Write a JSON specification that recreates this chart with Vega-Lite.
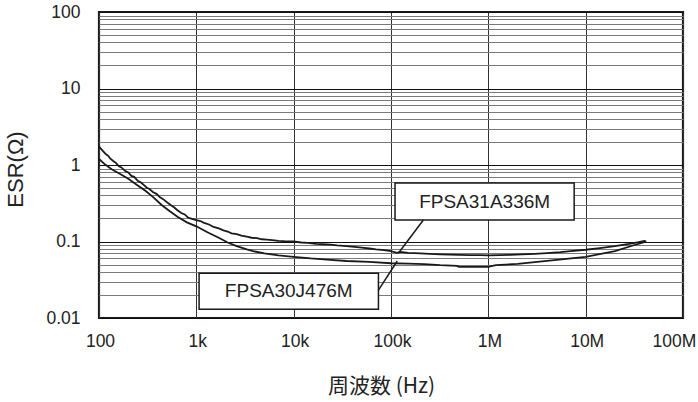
{
  "$schema": "https://vega.github.io/schema/vega-lite/v6.json",
  "width": 584,
  "height": 306,
  "autosize": "none",
  "padding": {"left": 99, "top": 12, "right": 15, "bottom": 84},
  "background": "white",
  "config": {
    "view": {"stroke": "#1a1a1a", "strokeWidth": 2.2},
    "font": "Liberation Sans",
    "axis": {"labelFont": "Liberation Sans", "titleFont": "Liberation Sans", "labelColor": "#222", "titleColor": "#222", "titleFontWeight": "normal", "labelFlush": false}
  },
  "datasets": {
    "curves": [
      {"series": "FPSA31A336M", "freq": 100, "esr": 1.75},
      {"series": "FPSA31A336M", "freq": 105, "esr": 1.62},
      {"series": "FPSA31A336M", "freq": 110, "esr": 1.52},
      {"series": "FPSA31A336M", "freq": 118, "esr": 1.38},
      {"series": "FPSA31A336M", "freq": 125, "esr": 1.31},
      {"series": "FPSA31A336M", "freq": 130, "esr": 1.22},
      {"series": "FPSA31A336M", "freq": 140, "esr": 1.13},
      {"series": "FPSA31A336M", "freq": 150, "esr": 1.06},
      {"series": "FPSA31A336M", "freq": 160, "esr": 0.96},
      {"series": "FPSA31A336M", "freq": 170, "esr": 0.93},
      {"series": "FPSA31A336M", "freq": 185, "esr": 0.84},
      {"series": "FPSA31A336M", "freq": 200, "esr": 0.8},
      {"series": "FPSA31A336M", "freq": 215, "esr": 0.72},
      {"series": "FPSA31A336M", "freq": 230, "esr": 0.7},
      {"series": "FPSA31A336M", "freq": 250, "esr": 0.62},
      {"series": "FPSA31A336M", "freq": 270, "esr": 0.59},
      {"series": "FPSA31A336M", "freq": 290, "esr": 0.545},
      {"series": "FPSA31A336M", "freq": 310, "esr": 0.505},
      {"series": "FPSA31A336M", "freq": 330, "esr": 0.485},
      {"series": "FPSA31A336M", "freq": 360, "esr": 0.44},
      {"series": "FPSA31A336M", "freq": 390, "esr": 0.42},
      {"series": "FPSA31A336M", "freq": 420, "esr": 0.38},
      {"series": "FPSA31A336M", "freq": 460, "esr": 0.355},
      {"series": "FPSA31A336M", "freq": 500, "esr": 0.325},
      {"series": "FPSA31A336M", "freq": 540, "esr": 0.302},
      {"series": "FPSA31A336M", "freq": 590, "esr": 0.28},
      {"series": "FPSA31A336M", "freq": 640, "esr": 0.256},
      {"series": "FPSA31A336M", "freq": 700, "esr": 0.236},
      {"series": "FPSA31A336M", "freq": 760, "esr": 0.226},
      {"series": "FPSA31A336M", "freq": 820, "esr": 0.206},
      {"series": "FPSA31A336M", "freq": 900, "esr": 0.198},
      {"series": "FPSA31A336M", "freq": 1000, "esr": 0.19},
      {"series": "FPSA31A336M", "freq": 1100, "esr": 0.185},
      {"series": "FPSA31A336M", "freq": 1200, "esr": 0.175},
      {"series": "FPSA31A336M", "freq": 1350, "esr": 0.167},
      {"series": "FPSA31A336M", "freq": 1500, "esr": 0.155},
      {"series": "FPSA31A336M", "freq": 1700, "esr": 0.148},
      {"series": "FPSA31A336M", "freq": 1900, "esr": 0.14},
      {"series": "FPSA31A336M", "freq": 2100, "esr": 0.135},
      {"series": "FPSA31A336M", "freq": 2300, "esr": 0.128},
      {"series": "FPSA31A336M", "freq": 2600, "esr": 0.125},
      {"series": "FPSA31A336M", "freq": 2900, "esr": 0.119},
      {"series": "FPSA31A336M", "freq": 3300, "esr": 0.116},
      {"series": "FPSA31A336M", "freq": 3700, "esr": 0.112},
      {"series": "FPSA31A336M", "freq": 4200, "esr": 0.111},
      {"series": "FPSA31A336M", "freq": 4700, "esr": 0.107},
      {"series": "FPSA31A336M", "freq": 5300, "esr": 0.106},
      {"series": "FPSA31A336M", "freq": 6000, "esr": 0.104},
      {"series": "FPSA31A336M", "freq": 7000, "esr": 0.102},
      {"series": "FPSA31A336M", "freq": 8000, "esr": 0.101},
      {"series": "FPSA31A336M", "freq": 10000, "esr": 0.1},
      {"series": "FPSA31A336M", "freq": 12000, "esr": 0.097},
      {"series": "FPSA31A336M", "freq": 14000, "esr": 0.096},
      {"series": "FPSA31A336M", "freq": 17000, "esr": 0.093},
      {"series": "FPSA31A336M", "freq": 20000, "esr": 0.092},
      {"series": "FPSA31A336M", "freq": 24000, "esr": 0.091},
      {"series": "FPSA31A336M", "freq": 28000, "esr": 0.089},
      {"series": "FPSA31A336M", "freq": 35000, "esr": 0.087},
      {"series": "FPSA31A336M", "freq": 42000, "esr": 0.085},
      {"series": "FPSA31A336M", "freq": 50000, "esr": 0.083},
      {"series": "FPSA31A336M", "freq": 60000, "esr": 0.081},
      {"series": "FPSA31A336M", "freq": 70000, "esr": 0.079},
      {"series": "FPSA31A336M", "freq": 85000, "esr": 0.077},
      {"series": "FPSA31A336M", "freq": 100000, "esr": 0.075},
      {"series": "FPSA31A336M", "freq": 115000, "esr": 0.071},
      {"series": "FPSA31A336M", "freq": 125000, "esr": 0.073},
      {"series": "FPSA31A336M", "freq": 150000, "esr": 0.071},
      {"series": "FPSA31A336M", "freq": 200000, "esr": 0.07},
      {"series": "FPSA31A336M", "freq": 250000, "esr": 0.069},
      {"series": "FPSA31A336M", "freq": 320000, "esr": 0.068},
      {"series": "FPSA31A336M", "freq": 400000, "esr": 0.0675},
      {"series": "FPSA31A336M", "freq": 500000, "esr": 0.067},
      {"series": "FPSA31A336M", "freq": 650000, "esr": 0.0665},
      {"series": "FPSA31A336M", "freq": 830000, "esr": 0.0665},
      {"series": "FPSA31A336M", "freq": 1000000, "esr": 0.066},
      {"series": "FPSA31A336M", "freq": 1300000, "esr": 0.0665},
      {"series": "FPSA31A336M", "freq": 1700000, "esr": 0.067},
      {"series": "FPSA31A336M", "freq": 2200000, "esr": 0.068},
      {"series": "FPSA31A336M", "freq": 3000000, "esr": 0.069},
      {"series": "FPSA31A336M", "freq": 4000000, "esr": 0.0705},
      {"series": "FPSA31A336M", "freq": 5500000, "esr": 0.0725},
      {"series": "FPSA31A336M", "freq": 7000000, "esr": 0.075},
      {"series": "FPSA31A336M", "freq": 10000000, "esr": 0.078},
      {"series": "FPSA31A336M", "freq": 14000000, "esr": 0.082},
      {"series": "FPSA31A336M", "freq": 20000000, "esr": 0.087},
      {"series": "FPSA31A336M", "freq": 28000000, "esr": 0.093},
      {"series": "FPSA31A336M", "freq": 35000000, "esr": 0.098},
      {"series": "FPSA31A336M", "freq": 40000000, "esr": 0.102},
      {"series": "FPSA31A336M", "freq": 42000000, "esr": 0.1},
      {"series": "FPSA30J476M", "freq": 100, "esr": 1.2},
      {"series": "FPSA30J476M", "freq": 115, "esr": 1.02},
      {"series": "FPSA30J476M", "freq": 135, "esr": 0.88},
      {"series": "FPSA30J476M", "freq": 160, "esr": 0.78},
      {"series": "FPSA30J476M", "freq": 200, "esr": 0.66},
      {"series": "FPSA30J476M", "freq": 250, "esr": 0.54},
      {"series": "FPSA30J476M", "freq": 300, "esr": 0.46},
      {"series": "FPSA30J476M", "freq": 360, "esr": 0.38},
      {"series": "FPSA30J476M", "freq": 440, "esr": 0.3},
      {"series": "FPSA30J476M", "freq": 530, "esr": 0.25},
      {"series": "FPSA30J476M", "freq": 640, "esr": 0.21},
      {"series": "FPSA30J476M", "freq": 800, "esr": 0.178},
      {"series": "FPSA30J476M", "freq": 1000, "esr": 0.158},
      {"series": "FPSA30J476M", "freq": 1300, "esr": 0.132},
      {"series": "FPSA30J476M", "freq": 1700, "esr": 0.112},
      {"series": "FPSA30J476M", "freq": 2100, "esr": 0.097},
      {"series": "FPSA30J476M", "freq": 2600, "esr": 0.087},
      {"series": "FPSA30J476M", "freq": 3300, "esr": 0.079},
      {"series": "FPSA30J476M", "freq": 4000, "esr": 0.074},
      {"series": "FPSA30J476M", "freq": 5000, "esr": 0.07},
      {"series": "FPSA30J476M", "freq": 7000, "esr": 0.066},
      {"series": "FPSA30J476M", "freq": 10000, "esr": 0.063},
      {"series": "FPSA30J476M", "freq": 15000, "esr": 0.06},
      {"series": "FPSA30J476M", "freq": 22000, "esr": 0.058},
      {"series": "FPSA30J476M", "freq": 35000, "esr": 0.0556},
      {"series": "FPSA30J476M", "freq": 60000, "esr": 0.054},
      {"series": "FPSA30J476M", "freq": 100000, "esr": 0.052},
      {"series": "FPSA30J476M", "freq": 150000, "esr": 0.0515},
      {"series": "FPSA30J476M", "freq": 220000, "esr": 0.0505},
      {"series": "FPSA30J476M", "freq": 320000, "esr": 0.049},
      {"series": "FPSA30J476M", "freq": 480000, "esr": 0.048},
      {"series": "FPSA30J476M", "freq": 500000, "esr": 0.0465},
      {"series": "FPSA30J476M", "freq": 1000000, "esr": 0.0465},
      {"series": "FPSA30J476M", "freq": 1100000, "esr": 0.048},
      {"series": "FPSA30J476M", "freq": 1200000, "esr": 0.049},
      {"series": "FPSA30J476M", "freq": 2000000, "esr": 0.051},
      {"series": "FPSA30J476M", "freq": 4000000, "esr": 0.0557},
      {"series": "FPSA30J476M", "freq": 10000000, "esr": 0.063},
      {"series": "FPSA30J476M", "freq": 20000000, "esr": 0.075},
      {"series": "FPSA30J476M", "freq": 30000000, "esr": 0.088},
      {"series": "FPSA30J476M", "freq": 40000000, "esr": 0.098}
    ],
    "boxes": [
      {"label": "FPSA31A336M", "x1": 110000, "x2": 7620000, "y1": 0.582, "y2": 0.191, "tx": 916000, "ty": 0.333},
      {"label": "FPSA30J476M", "x1": 1067, "x2": 74300, "y1": 0.0384, "y2": 0.013, "tx": 8900, "ty": 0.0223}
    ],
    "leaders": [
      {"xa": 215000, "ya": 0.191, "xb": 119000, "yb": 0.0701},
      {"xa": 74300, "ya": 0.0232, "xb": 116000, "yb": 0.0556}
    ]
  },
  "layer": [
    {
      "data": {"name": "curves"},
      "mark": {"type": "line", "color": "#1a1a1a", "strokeWidth": 1.8, "clip": true},
      "encoding": {
        "x": {
          "field": "freq", "type": "quantitative",
          "scale": {"type": "log", "domain": [100, 100000000]},
          "axis": {
            "values": [100, 1000, 10000, 100000, 1000000, 10000000, 100000000],
            "grid": true, "gridColor": "#333", "gridWidth": 1,
            "domain": false, "ticks": false,
            "labelFontSize": 17.5, "labelPadding": 14,
            "labelOffset": {"condition": {"test": "datum.value == 100000000", "value": -9}, "value": 1},
            "labelExpr": "datum.value == 100 ? '100' : datum.value == 1000 ? '1k' : datum.value == 10000 ? '10k' : datum.value == 100000 ? '100k' : datum.value == 1000000 ? '1M' : datum.value == 10000000 ? '10M' : '100M'",
            "title": "周波数 (Hz)", "titleFont": "Noto Sans CJK JP", "titleFontSize": 21,
            "titleX": 282, "titleY": 68, "titleBaseline": "middle", "titleAlign": "center"
          }
        },
        "y": {
          "field": "esr", "type": "quantitative",
          "scale": {"type": "log", "domain": [0.01, 100]},
          "axis": {
            "values": [0.01, 0.02, 0.03, 0.04, 0.05, 0.06, 0.07, 0.08, 0.09, 0.1, 0.2, 0.3, 0.4, 0.5, 0.6, 0.7, 0.8, 0.9, 1, 2, 3, 4, 5, 6, 7, 8, 9, 10, 20, 30, 40, 50, 60, 70, 80, 90, 100],
            "grid": true,
            "gridColor": {"condition": {"test": "indexof([0.01, 0.1, 1, 10, 100], datum.value) >= 0", "value": "#111"}, "value": "#7a7a7a"},
            "gridWidth": 1,
            "domain": false, "ticks": false,
            "labelFontSize": 17.5, "labelPadding": 19,
            "labelExpr": "indexof([0.01, 0.1, 1, 10, 100], datum.value) >= 0 ? toString(datum.value) : ''",
            "title": "ESR(Ω)", "titleFontSize": 22,
            "titleX": -84, "titleY": 157, "titleAngle": -90, "titleAlign": "center", "titleBaseline": "middle"
          }
        },
        "detail": {"field": "series"},
        "order": {"field": "freq", "type": "quantitative"}
      }
    },
    {
      "data": {"name": "boxes"},
      "mark": {"type": "rect", "fill": "white", "stroke": "#1a1a1a", "strokeWidth": 1.5},
      "encoding": {
        "x": {"field": "x1", "type": "quantitative"},
        "x2": {"field": "x2"},
        "y": {"field": "y1", "type": "quantitative"},
        "y2": {"field": "y2"}
      }
    },
    {
      "data": {"name": "boxes"},
      "mark": {"type": "text", "fontSize": 19, "color": "#222", "font": "Liberation Sans", "align": "center", "baseline": "middle"},
      "encoding": {
        "x": {"field": "tx", "type": "quantitative"},
        "y": {"field": "ty", "type": "quantitative"},
        "text": {"field": "label"}
      }
    },
    {
      "data": {"name": "leaders"},
      "mark": {"type": "rule", "color": "#1a1a1a", "strokeWidth": 1.5},
      "encoding": {
        "x": {"field": "xa", "type": "quantitative"},
        "y": {"field": "ya", "type": "quantitative"},
        "x2": {"field": "xb"},
        "y2": {"field": "yb"}
      }
    }
  ]
}
